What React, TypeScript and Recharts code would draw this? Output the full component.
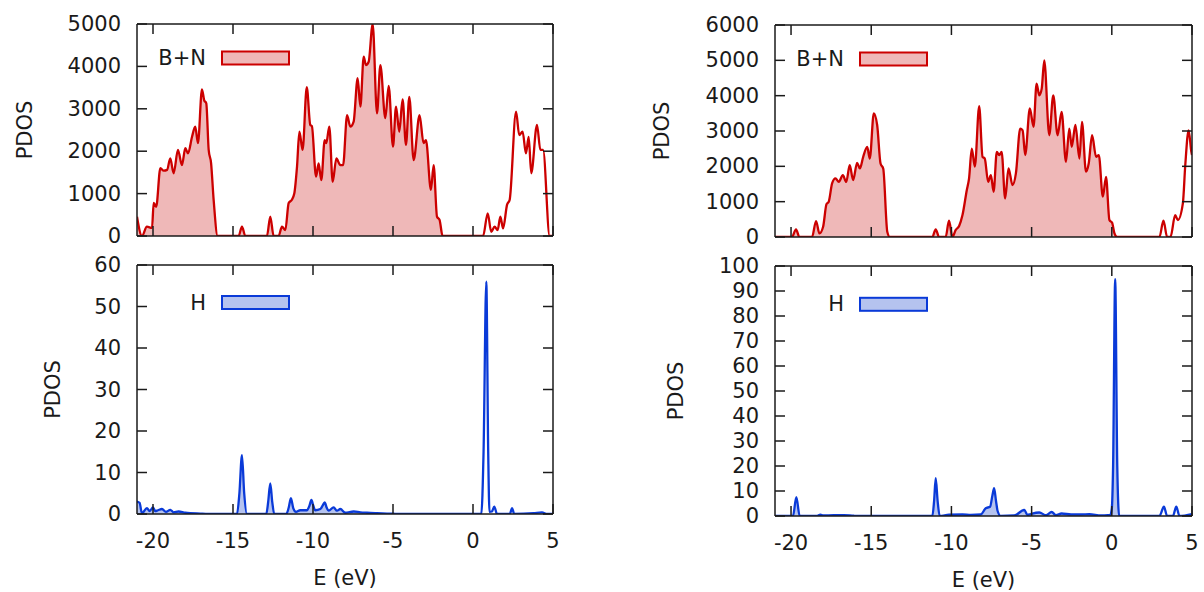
import React from 'react';
import { ComposedChart, Area, Line, XAxis, YAxis } from 'recharts';

const FONT = '"DejaVu Sans", sans-serif';
const INK = '#1a1a1a';

// energies (eV) shared tick marks
const eTicks = [-20, -15, -10, -5, 0, 5];

// left column, B+N
const bnLeftE = [
  -21, -20.69, -20.38, -20.06, -19.96, -19.8, -19.54, -19.33, -19.12, -18.92, -18.71, -18.44, -18.19,
  -17.98, -17.81, -17.56, -17.36, -17.19, -16.94, -16.8, -16.67, -16.52, -16.37, -16.21, -15.96,
  -14.65, -14.44, -14.23, -12.88, -12.67, -12.46, -12.15, -11.94, -11.73, -11.52, -11.33, -11.17,
  -11.0, -10.85, -10.65, -10.39, -10.17, -10.07, -9.81, -9.65, -9.48, -9.27, -9.17, -8.98, -8.77,
  -8.54, -8.29, -8.12, -7.87, -7.67, -7.46, -7.21, -7.04, -6.83, -6.69, -6.52, -6.27, -6.0, -5.79,
  -5.48, -5.27, -5.0, -4.81, -4.61, -4.4, -4.19, -3.98, -3.71, -3.34, -3.09, -2.94, -2.63, -2.46,
  -2.25, -2.09, -1.9, 0.63, 0.92, 1.14, 1.35, 1.54, 1.71, 1.88, 2.13, 2.29, 2.69, 2.89, 3.1, 3.31,
  3.48, 3.64, 4.0, 4.21, 4.38, 4.79, 5,
];
const bnLeftDos = [
  455, 0, 220, 190, 780, 690, 1600, 1540, 1560, 1830, 1480, 2030, 1670,
  2070, 1950, 2340, 2580, 2190, 3460, 3200, 3130, 2030, 1720, 850, 0,
  0, 220, 0, 0, 455, 0, 0, 220, 140, 780, 850, 1000,
  1630, 2460, 2030, 3510, 2620, 2590, 1400, 1710, 1320, 2260, 2190, 2580, 1280,
  1830, 1670, 1670, 2850, 2580, 2700, 3720, 3050, 4230, 4030, 4110, 5000, 2890, 4030,
  2780, 3540, 2110, 3050, 2460, 3220, 2150, 3280, 1790, 2850, 2190, 2260, 1090, 1670,
  455, 380, 0, 0, 535, 100, 220, 140, 455, 180, 740, 850, 2930, 2380, 2460, 1950,
  2340, 1480, 2620, 2030, 2030, 0, 0,
];

// left column, H
const hLeftE = [
  -21, -20.84, -20.69, -20.38, -20.21, -20.0, -19.86, -19.69, -19.44, -19.19, -18.92, -18.71, -18.4,
  -17.98, -17.04, -16.21, -14.75, -14.6, -14.44, -14.3, -14.13, -12.92, -12.8, -12.67, -12.55,
  -12.42, -11.67, -11.52, -11.38, -11.24, -11.06, -10.8, -10.38, -10.22, -10.1, -9.98, -9.86,
  -9.54, -9.4, -9.27, -9.14, -9.02, -8.71, -8.5, -8.29, -7.98, -7.46, -7.04, -6.63, -6.0, -5.17,
  -4.75, 0.52, 0.66, 0.83, 0.95, 1.03, 1.18, 1.33, 1.5, 2.3, 2.44, 2.58, 3.79, 4.31, 4.63, 5,
];
const hLeftDos = [
  3.0, 2.7, 0.2, 1.4, 0.7, 1.6, 0.7, 0.9, 1.2, 0.5, 1.0, 0.4, 0.6,
  0.3, 0.1, 0, 0, 5, 14.2, 5, 0, 0, 3, 7.4, 3,
  0, 0, 1.5, 3.8, 1.5, 0.5, 0.9, 0.9, 2, 3.4, 2, 0.9,
  1.2, 2, 2.8, 1.5, 0.8, 1.6, 0.8, 1.2, 0.3, 0.6, 0.4, 0.3, 0.2, 0.1,
  0, 0, 15, 56, 15, 0.5, 0.6, 1.8, 0, 0, 1.4, 0, 0.2, 0.4, 0, 0,
];

// right column, B+N
const bnRightE = [
  -21, -19.94, -19.69, -19.48, -18.69, -18.44, -18.23, -18.0, -17.79, -17.65, -17.44, -17.23, -17.02,
  -16.77, -16.56, -16.34, -16.13, -15.88, -15.71, -15.5, -15.25, -15.09, -14.84, -14.63, -14.42,
  -14.25, -14.0, -13.84, -11.19, -10.98, -10.77, -10.36, -10.15, -9.94, -9.73, -9.52, -9.31, -9.04,
  -8.9, -8.73, -8.54, -8.27, -8.06, -7.92, -7.71, -7.54, -7.37, -7.17, -7.02, -6.87, -6.65, -6.44,
  -6.19, -5.98, -5.71, -5.56, -5.4, -5.11, -4.88, -4.69, -4.52, -4.37, -4.21, -3.9, -3.65, -3.38,
  -3.13, -2.86, -2.65, -2.5, -2.27, -2.02, -1.86, -1.61, -1.44, -1.23, -0.98, -0.81, -0.56, -0.36,
  -0.15, 0.02, 0.16, 0.33, 2.97, 3.22, 3.45, 3.66, 3.95, 4.12, 4.43, 4.58, 4.79, 4.96, 5,
];
const bnRightDos = [
  0, 0, 217, 0, 0, 452, 100, 290, 930, 1000, 1520, 1660, 1560,
  1750, 1560, 2030, 1610, 2100, 1940, 2270, 2550, 2220, 3500, 3170, 2080,
  1930, 150, 0, 0, 217, 0, 0, 460, 0, 200, 310, 620, 1330,
  1660, 2500, 1990, 3700, 2270, 2220, 1560, 1750, 1280, 2410, 2320, 2410, 1090, 1940,
  1470, 1800, 3070, 3020, 2320, 3640, 3120, 4340, 4010, 4200, 5000, 2880, 4010, 2880,
  3540, 2130, 3070, 2550, 3170, 2220, 3260, 1850, 2080, 2880, 2270, 2320, 1140, 1700,
  480, 400, 110, 0, 0, 460, 0, 0, 620, 480, 950, 2030, 3020, 2410, 2320,
];

// right column, H
const hRightE = [
  -21, -19.88, -19.67, -19.46, -18.4, -18.17, -18.0, -17.34, -16.71, -16.09, -15.5, -11.19, -11.08,
  -10.98, -10.86, -10.73, -10.15, -9.31, -8.79, -8.17, -7.86, -7.59, -7.45, -7.34, -7.22, -7.12,
  -6.92, -6.08, -5.46, -5.25, -5.04, -4.52, -4.1, -3.75, -3.48, -3.13, -2.54, -1.92, -1.4, -0.67,
  -0.25, -0.1, 0.0, 0.08, 0.21, 0.34, 0.46, 2.97, 3.25, 3.45, 3.81, 4.02, 4.22, 5,
];
const hRightDos = [
  0, 0, 7.5, 0, 0, 0.5, 0.2, 0.3, 0.3, 0.1, 0, 0, 6,
  15.1, 6, 0, 0.5, 0.6, 0.4, 0.6, 3.1, 3.7, 8, 11.1, 6, 2,
  0, 0.2, 2.4, 0.4, 0.8, 1.4, 0.3, 1.6, 0.3, 1.0, 0.6, 0.6, 0.7, 0.2,
  0.3, 0.3, 3, 20, 94.7, 20, 0, 0, 3.7, 0, 0, 3.7, 0, 0.8,
];

// Fermi level: states below are shaded
const efLeft = 0.3;
const efRight = 0.5;

const bnTicksLeft = [0, 1000, 2000, 3000, 4000, 5000];
const bnTicksRight = [0, 1000, 2000, 3000, 4000, 5000, 6000];
const hTicksLeft = [0, 10, 20, 30, 40, 50, 60];
const hTicksRight = [0, 10, 20, 30, 40, 50, 60, 70, 80, 90, 100];

const RED = '#cc0000';
const RED_FILL = '#efb8b8';
const BLUE = '#0a3ad8';
const BLUE_FILL = '#b5c3ef';

const W = 1204;
const H = 592;
const TICK = 10;

type PanelProps = {
  e: number[];
  v: number[];
  ef: number;
  box: [number, number, number, number];
  yTicks: number[];
  stroke: string;
  fill: string;
  name: string;
  nameY: number;
  titleX: number;
  xLabels: boolean;
};

const Panel = ({ e, v, ef, box, yTicks, stroke, fill, name, nameY, titleX, xLabels }: PanelProps) => {
  const [l, t, r, b] = box;
  const rows = e.map((x, i) => ({ e: x, dos: v[i], occ: x <= ef ? v[i] : null }));
  const yMax = yTicks[yTicks.length - 1];

  const bottomTick = (p: any) => (
    <g>
      <line x1={p.x} x2={p.x} y1={b} y2={b - TICK} stroke={INK} strokeWidth={1.5} />
      {xLabels && (
        <text x={p.x} y={b + 27} textAnchor="middle" dominantBaseline="central" fontFamily={FONT} fontSize={21} fill={INK}>
          {p.payload.value}
        </text>
      )}
    </g>
  );
  const topTick = (p: any) => (
    <line x1={p.x} x2={p.x} y1={t} y2={t + TICK} stroke={INK} strokeWidth={1.5} />
  );
  const leftTick = (p: any) => (
    <g>
      <line x1={l} x2={l + TICK} y1={p.y} y2={p.y} stroke={INK} strokeWidth={1.5} />
      <text x={l - 16} y={p.y} textAnchor="end" dominantBaseline="central" fontFamily={FONT} fontSize={21} fill={INK}>
        {p.payload.value}
      </text>
    </g>
  );
  const rightTick = (p: any) => (
    <line x1={r} x2={r - TICK} y1={p.y} y2={p.y} stroke={INK} strokeWidth={1.5} />
  );

  const axisStyle = { stroke: INK, strokeWidth: 1.5 };

  return (
    <div style={{ position: 'absolute', left: 0, top: 0 }}>
      <ComposedChart
        width={W}
        height={H}
        data={rows}
        margin={{ top: t - 2, left: l - 2, right: W - r - 2, bottom: H - b - 2 }}
      >
        <XAxis
          xAxisId="b"
          dataKey="e"
          type="number"
          domain={[-21, 5]}
          ticks={eTicks}
          interval={0}
          height={2}
          tickLine={false}
          tick={bottomTick}
          axisLine={axisStyle}
          allowDataOverflow
        />
        <XAxis
          xAxisId="t"
          orientation="top"
          dataKey="e"
          type="number"
          domain={[-21, 5]}
          ticks={eTicks}
          interval={0}
          height={2}
          tickLine={false}
          tick={topTick}
          axisLine={axisStyle}
          allowDataOverflow
        />
        <YAxis
          yAxisId="l"
          type="number"
          domain={[0, yMax]}
          ticks={yTicks}
          interval={0}
          width={2}
          tickLine={false}
          tick={leftTick}
          axisLine={axisStyle}
          allowDataOverflow
        />
        <YAxis
          yAxisId="r"
          orientation="right"
          type="number"
          domain={[0, yMax]}
          ticks={yTicks}
          interval={0}
          width={2}
          tickLine={false}
          tick={rightTick}
          axisLine={axisStyle}
          allowDataOverflow
        />
        <Area
          xAxisId="b"
          yAxisId="l"
          type="monotone"
          dataKey="occ"
          stroke="none"
          fill={fill}
          fillOpacity={1}
          isAnimationActive={false}
        />
        <Line
          xAxisId="b"
          yAxisId="l"
          type="monotone"
          dataKey="dos"
          stroke={stroke}
          strokeWidth={2.3}
          dot={false}
          isAnimationActive={false}
        />
        <text
          x={titleX}
          y={(t + b) / 2}
          transform={`rotate(-90 ${titleX} ${(t + b) / 2})`}
          textAnchor="middle"
          dominantBaseline="central"
          fontFamily={FONT}
          fontSize={21}
          fill={INK}
        >
          PDOS
        </text>
        {xLabels && (
          <text x={(l + r) / 2} y={b + 64} textAnchor="middle" dominantBaseline="central" fontFamily={FONT} fontSize={21} fill={INK}>
            E (eV)
          </text>
        )}
        <text x={l + 69} y={nameY} textAnchor="end" dominantBaseline="central" fontFamily={FONT} fontSize={21} fill={INK}>
          {name}
        </text>
        <rect x={l + 85} y={nameY - 6.5} width={67} height={13} fill={fill} stroke={stroke} strokeWidth={2} />
      </ComposedChart>
    </div>
  );
};

export default function App() {
  return (
    <div style={{ position: 'absolute', left: 0, top: 0, width: W, height: H, background: '#fff', fontFamily: FONT }}>
      <Panel e={bnLeftE} v={bnLeftDos} ef={efLeft} box={[137, 24, 553, 236]} yTicks={bnTicksLeft}
        stroke={RED} fill={RED_FILL} name="B+N" nameY={58} titleX={25} xLabels={false} />
      <Panel e={hLeftE} v={hLeftDos} ef={efLeft} box={[137, 265, 553, 514]} yTicks={hTicksLeft}
        stroke={BLUE} fill={BLUE_FILL} name="H" nameY={302.5} titleX={53} xLabels />
      <Panel e={bnRightE} v={bnRightDos} ef={efRight} box={[775, 25, 1192, 237]} yTicks={bnTicksRight}
        stroke={RED} fill={RED_FILL} name="B+N" nameY={59} titleX={662} xLabels={false} />
      <Panel e={hRightE} v={hRightDos} ef={efRight} box={[775, 266, 1192, 516]} yTicks={hTicksRight}
        stroke={BLUE} fill={BLUE_FILL} name="H" nameY={304.3} titleX={676} xLabels />
    </div>
  );
}
